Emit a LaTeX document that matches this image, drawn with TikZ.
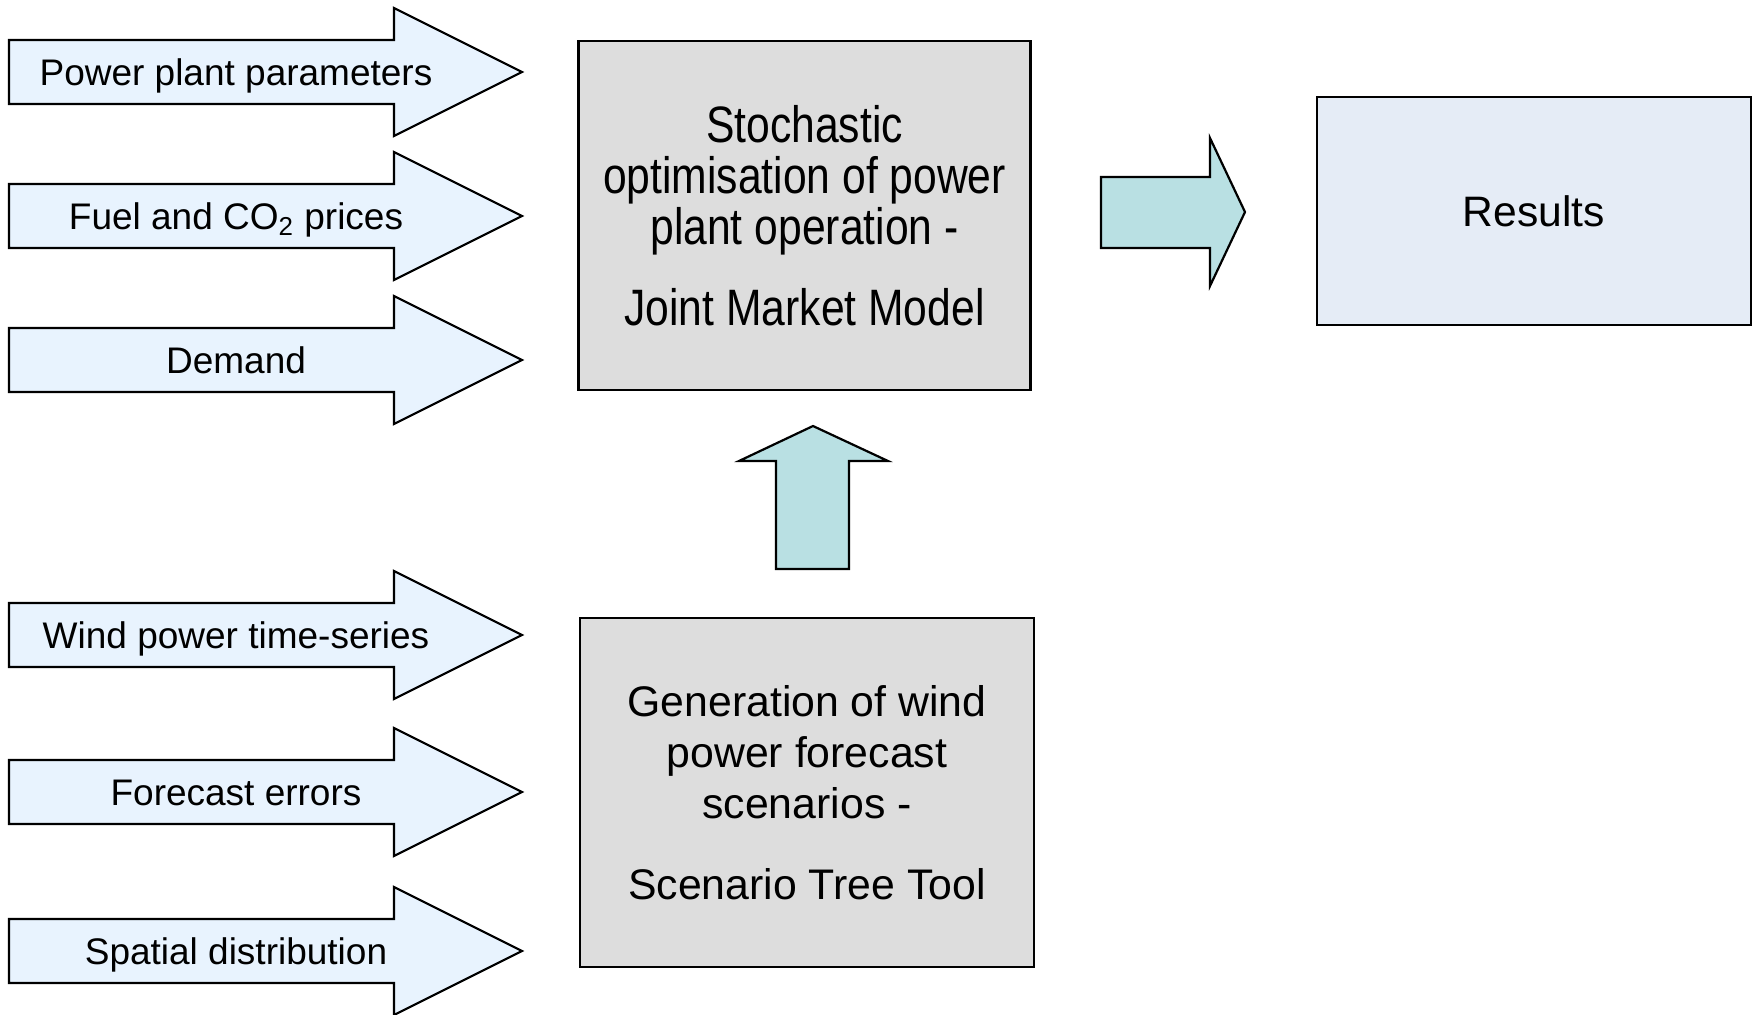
\documentclass[tikz,border=0pt]{standalone}
\usepackage{fontspec}
\setmainfont{Liberation Sans}
\newfontfamily\tallsans[FakeStretch=0.833]{Liberation Sans}
\definecolor{inputfill}{RGB}{232,243,254}
\definecolor{boxgray}{RGB}{221,221,221}
\definecolor{resultfill}{RGB}{229,236,246}
\definecolor{flowteal}{RGB}{185,224,227}
\begin{document}
\begin{tikzpicture}[x=0.5pt,y=-0.5pt,
  outline/.style={draw=black, line width=1.1pt, line join=miter},
  inarrow/.style={outline, fill=inputfill},
  flowarrow/.style={outline, fill=flowteal},
  intext/.style={font=\fontsize{18.5}{22}\selectfont, inner sep=0pt, anchor=base},
  procbox/.style={outline, fill=boxgray, align=center,
    minimum width=226pt, minimum height=174.5pt, inner sep=0pt},
  resbox/.style={outline, fill=resultfill, align=center,
    minimum width=217pt, minimum height=114pt,
    font=\fontsize{21.3}{25.5}\selectfont}
]
\useasboundingbox (0,0) rectangle (1753,1014);

% input arrow: body from x=9 to 394, head tip at x=522
\newcommand{\inputarrow}[3]{%
  \draw[inarrow] (9,#2-32) -- (394,#2-32) -- (394,#2-64) -- (522,#2)
    -- (394,#2+64) -- (394,#2+32) -- (9,#2+32) -- cycle;
  \node[intext] (#1) at (236,#2+13) {#3};}

\inputarrow{ppp}{72}{Power plant parameters}
\inputarrow{fuel}{216}{Fuel and CO\textsubscript{2} prices}
\inputarrow{dem}{360}{Demand}
\inputarrow{wts}{635}{Wind power time-series}
\inputarrow{fce}{792}{Forecast errors}
\inputarrow{spd}{951}{Spatial distribution}

% processing blocks
\node[procbox, font=\tallsans\fontsize{25.6}{25.5}\selectfont] (jmm) at (804.5,215.5)
  {Stochastic\\optimisation of power\\plant operation -\\[15pt]Joint Market Model};
\node[procbox, minimum width=227pt, font=\fontsize{21.4}{25.5}\selectfont] (stt) at (807,792.5)
  {Generation of wind\\power forecast\\scenarios -\\[15pt]Scenario Tree Tool};
\node[resbox] (res) at (1534,211) {Results};

% block arrows between the stages
\draw[flowarrow] (776,569) -- (776,461) -- (739,461) -- (813,426)
  -- (888,461) -- (849,461) -- (849,569) -- cycle;
\draw[flowarrow] (1101,177) -- (1210,177) -- (1210,138) -- (1245,212)
  -- (1210,286) -- (1210,248) -- (1101,248) -- cycle;
\end{tikzpicture}
\end{document}
